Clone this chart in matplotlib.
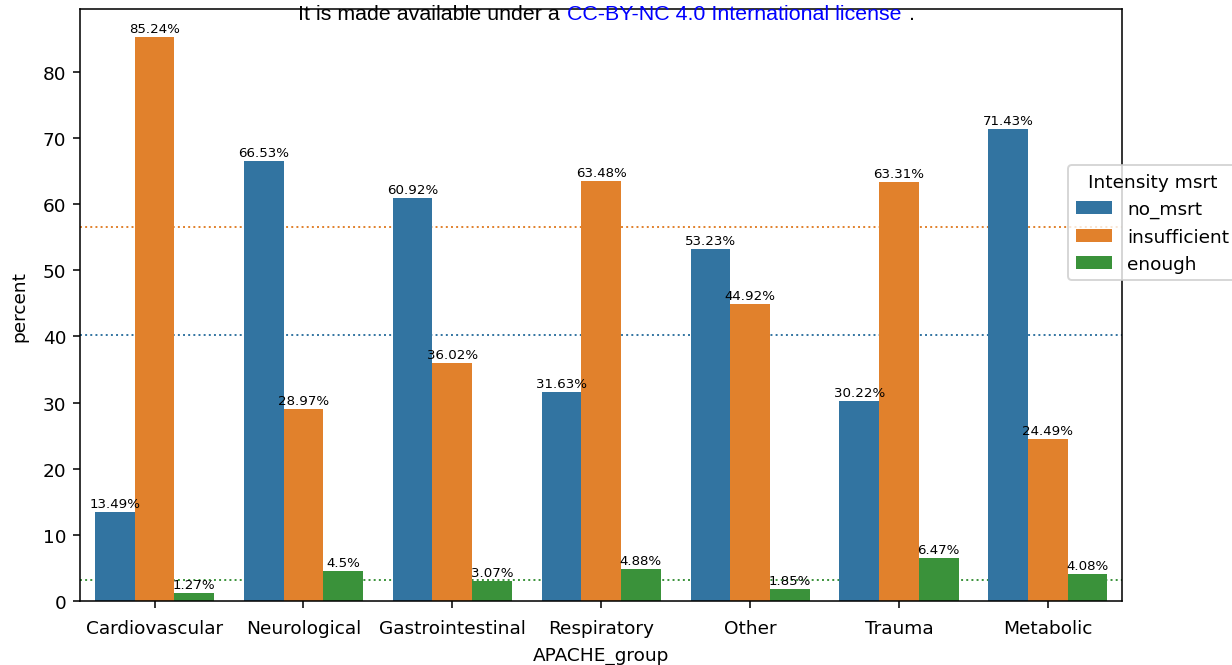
import numpy as np
import pandas as pd
import matplotlib
matplotlib.use("Agg")
import matplotlib.pyplot as plt
import seaborn as sns

# percentage of patients per APACHE group and measurement intensity
groups = ["Cardiovascular", "Neurological", "Gastrointestinal", "Respiratory",
          "Other", "Trauma", "Metabolic"]
levels = ["no_msrt", "insufficient", "enough"]
no_msrt = [13.49, 66.53, 60.92, 31.63, 53.23, 30.22, 71.43]
insufficient = [85.24, 28.97, 36.02, 63.48, 44.92, 63.31, 24.49]
enough = [1.27, 4.5, 3.07, 4.88, 1.85, 6.47, 4.08]
# overall share of each level (all groups pooled)
overall = [40.15, 56.6, 3.17]

df = pd.DataFrame({
    "APACHE_group": np.repeat(groups, 3),
    "Intensity msrt": levels * len(groups),
    "percent": np.ravel(np.column_stack([no_msrt, insufficient, enough])),
})

fig = plt.figure(figsize=(8.8, 4.757), dpi=140)
ax = fig.add_axes([0.065, 0.096, 0.846, 0.889])

sns.barplot(data=df, x="APACHE_group", y="percent", hue="Intensity msrt",
            hue_order=levels, order=groups, ax=ax)

palette = sns.color_palette(n_colors=3, desat=0.75)
for val, col in zip(overall, palette):
    ax.axhline(val, color=col, linestyle=":", linewidth=1.0, zorder=0.5)

for cont in ax.containers:
    vals = cont.datavalues
    ax.bar_label(cont, labels=[f"{round(v, 2):g}%" for v in vals],
                 fontsize=6.9, padding=1)

ax.set_ylim(0, 89.5)
ax.set_xlim(-0.5, 6.5)
ax.tick_params(axis="x", labelsize=9.5, pad=5.5)
ax.tick_params(axis="y", labelsize=9.5)
ax.set_xlabel("APACHE_group", fontsize=9.5, labelpad=5)
ax.set_ylabel("percent", fontsize=9.5, labelpad=7.5)
ax.legend(title="Intensity msrt", loc="upper left",
          bbox_to_anchor=(0.8595, 0.764), bbox_transform=fig.transFigure,
          fontsize=9.5, title_fontsize=9.5)

hdr = dict(va="center", fontsize=11, family="Liberation Sans", zorder=10)
fig.text(0.4595, 0.978, "It is made available under a ", ha="right", **hdr)
fig.text(0.4605, 0.978, "CC-BY-NC 4.0 International license", ha="left",
         color="blue", **hdr)
fig.text(0.7375, 0.978, ".", ha="left", **hdr)

fig.savefig("out.png", dpi=140)
